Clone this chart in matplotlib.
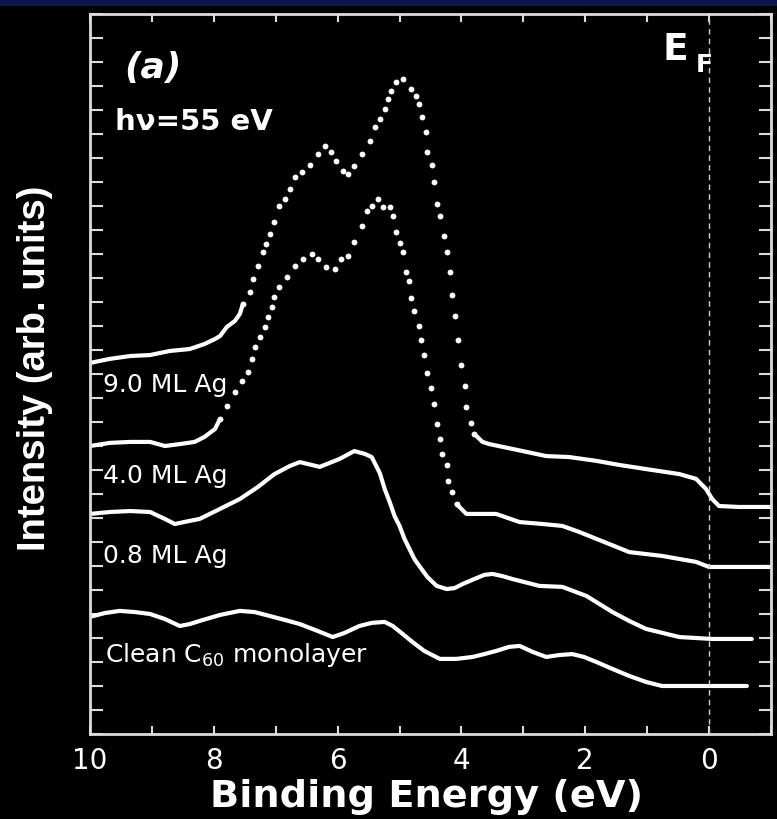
import matplotlib
matplotlib.use("Agg")
import matplotlib.pyplot as plt
import numpy as np
from matplotlib.ticker import MultipleLocator, NullFormatter
from matplotlib.patches import Rectangle

plt.rcParams['font.family'] = ['DejaVu Sans']
plt.rcParams['mathtext.fontset'] = 'dejavusans'

# Binding energy (eV) / intensity (arb. units, offset spectra)
e_90 = [10.00, 9.68, 9.35, 9.03, 8.71, 8.39, 8.15, 7.98, 7.90, 7.79, 7.66, 7.58,
        7.53, 7.42, 7.37, 7.29, 7.21, 7.15, 7.10, 7.02, 6.94, 6.85, 6.77, 6.69,
        6.58, 6.45, 6.32, 6.21, 6.10, 6.02, 5.92, 5.84, 5.73, 5.60, 5.48, 5.40,
        5.32, 5.24, 5.19, 5.13, 5.05, 4.95, 4.81, 4.73, 4.68, 4.63, 4.58, 4.55,
        4.48, 4.44, 4.40, 4.34, 4.29, 4.24, 4.19, 4.15, 4.10, 4.06, 4.00, 3.95,
        3.92, 3.85, 3.79, 3.66, 3.55, 3.18, 2.63, 2.26, 1.82, 1.45, 1.02, 0.48,
        0.21, 0.05, -0.05, -0.16, -0.48, -0.98]
i_90 = [15.46, 15.63, 15.75, 15.79, 15.96, 16.04, 16.25, 16.46, 16.58, 16.96, 17.21, 17.50,
        17.92, 18.42, 18.96, 19.50, 20.08, 20.42, 20.83, 21.33, 22.00, 22.29, 22.71, 23.21,
        23.42, 23.71, 24.17, 24.50, 24.25, 23.88, 23.46, 23.33, 23.67, 24.17, 24.71, 25.29,
        25.63, 26.04, 26.46, 26.79, 27.17, 27.29, 26.88, 26.58, 26.25, 25.71, 25.08, 24.25,
        23.71, 23.00, 22.08, 21.58, 20.75, 20.08, 19.25, 18.29, 17.42, 16.42, 15.38, 14.50,
        13.63, 12.96, 12.50, 12.17, 12.08, 11.88, 11.58, 11.54, 11.38, 11.21, 11.04, 10.83,
        10.63, 10.21, 9.79, 9.50, 9.46, 9.46]

e_40 = [10.00, 9.68, 9.35, 9.03, 8.79, 8.55, 8.31, 8.15, 7.98, 7.90, 7.79, 7.66,
        7.55, 7.45, 7.39, 7.34, 7.26, 7.18, 7.13, 7.06, 7.02, 6.94, 6.82, 6.69,
        6.56, 6.42, 6.32, 6.18, 6.05, 5.94, 5.84, 5.73, 5.60, 5.52, 5.44, 5.35,
        5.27, 5.16, 5.11, 5.05, 5.00, 4.95, 4.89, 4.84, 4.81, 4.76, 4.69, 4.65,
        4.60, 4.55, 4.50, 4.45, 4.40, 4.35, 4.31, 4.24, 4.21, 4.16, 4.08, 3.92,
        3.60, 3.44, 3.06, 2.69, 2.37, 2.10, 1.82, 1.53, 1.29, 0.76, 0.21, 0.00,
        -0.48, -0.98]
i_40 = [12.00, 12.13, 12.17, 12.17, 12.00, 12.08, 12.17, 12.38, 12.71, 13.13, 13.67, 14.25,
        14.71, 15.08, 15.63, 16.13, 16.54, 16.96, 17.38, 17.79, 18.21, 18.63, 19.04, 19.50,
        19.79, 20.00, 19.79, 19.46, 19.38, 19.79, 19.92, 20.50, 21.17, 21.79, 22.00, 22.29,
        21.96, 21.96, 21.58, 20.92, 20.46, 20.08, 19.25, 18.88, 18.17, 17.63, 17.00, 16.42,
        15.79, 15.04, 14.42, 13.75, 12.92, 12.29, 11.67, 11.21, 10.54, 10.08, 9.58, 9.17,
        9.17, 9.17, 8.83, 8.75, 8.67, 8.42, 8.13, 7.83, 7.58, 7.42, 7.17, 6.96,
        6.96, 6.96]

e_08 = [10.00, 9.68, 9.35, 9.03, 8.79, 8.63, 8.39, 8.23, 7.90, 7.58, 7.29, 7.02,
        6.77, 6.61, 6.29, 5.97, 5.73, 5.56, 5.45, 5.32, 5.24, 5.16, 5.08, 5.00,
        4.92, 4.84, 4.76, 4.68, 4.55, 4.40, 4.24, 4.11, 3.98, 3.79, 3.63, 3.50,
        3.34, 3.18, 2.74, 2.37, 1.98, 1.56, 1.29, 1.02, 0.48, -0.05, -0.69]
i_08 = [9.17, 9.25, 9.29, 9.25, 8.96, 8.75, 8.88, 8.96, 9.38, 9.79, 10.29, 10.83,
        11.17, 11.33, 11.13, 11.46, 11.79, 11.67, 11.54, 10.88, 10.21, 9.67, 9.08, 8.67,
        8.13, 7.71, 7.29, 7.00, 6.54, 6.17, 6.04, 6.08, 6.25, 6.46, 6.63, 6.67,
        6.58, 6.46, 6.17, 6.13, 5.75, 5.08, 4.71, 4.38, 4.04, 3.96, 3.96]

e_c60 = [10.00, 9.76, 9.52, 9.27, 9.03, 8.79, 8.55, 8.39, 8.23, 7.90, 7.58, 7.34,
         7.10, 6.85, 6.61, 6.32, 6.08, 5.89, 5.65, 5.45, 5.24, 5.11, 4.95, 4.79,
         4.60, 4.35, 4.08, 3.82, 3.63, 3.44, 3.23, 3.06, 2.85, 2.63, 2.42, 2.21,
         2.02, 1.82, 1.56, 1.29, 1.02, 0.76, 0.32, -0.05, -0.61]
i_c60 = [4.88, 5.04, 5.13, 5.08, 5.00, 4.79, 4.50, 4.58, 4.71, 4.96, 5.13, 5.08,
         4.92, 4.75, 4.58, 4.29, 4.04, 4.21, 4.50, 4.63, 4.67, 4.50, 4.17, 3.83,
         3.46, 3.13, 3.13, 3.21, 3.33, 3.46, 3.63, 3.67, 3.42, 3.21, 3.29, 3.33,
         3.21, 3.00, 2.71, 2.42, 2.17, 2.00, 2.00, 2.00, 2.00]

labels = ["9.0 ML Ag", "4.0 ML Ag", "0.8 ML Ag", "Clean C$_{60}$ monolayer"]
label_pos = [(9.79, 14.29), (9.79, 10.50), (9.79, 7.17), (9.76, 3.04)]

fg = '#dcdcdc'

fig = plt.figure(figsize=(7.77, 8.2), dpi=100, facecolor='black')
fig.patches.append(Rectangle((0, 1 - 6 / 820), 1, 6 / 820, transform=fig.transFigure,
                             color='#0d1650', zorder=0))
ax = fig.add_axes([90 / 777, 85 / 820, 681 / 777, 720 / 820])
ax.set_facecolor('black')


def draw(e, y, dotted=None):
    e = np.asarray(e)
    y = np.asarray(y)
    kw = dict(color='white', lw=3.0, solid_capstyle='round', solid_joinstyle='round')
    if dotted is None:
        ax.plot(e, y, **kw)
        return
    hi, lo = dotted
    ax.plot(e[e >= hi], y[e >= hi], **kw)
    ax.plot(e[e <= lo], y[e <= lo], **kw)
    m = (e <= hi) & (e >= lo)
    ax.plot(e[m], y[m], 'o', ms=4.2, color='white', mec='none')


draw(e_90, i_90, dotted=(7.53, 3.79))
draw(e_40, i_40, dotted=(7.90, 4.08))
draw(e_08, i_08)
draw(e_c60, i_c60)

ax.axvline(0, color='#cfcfcf', lw=1.0, dashes=(4, 3))

for txt, (x, y) in zip(labels, label_pos):
    ax.text(x, y, txt, color='white', fontsize=18, ha='left', va='baseline')

ax.text(9.44, 27.38, "(a)", color='white', fontsize=26, fontweight='bold',
        fontstyle='italic', ha='left', va='baseline')
ax.text(9.60, 25.21, "h\u03bd=55 eV", color='white', fontsize=21, fontweight='bold',
        ha='left', va='baseline')
ax.text(0.76, 28.13, "E", color='white', fontsize=27, fontweight='bold',
        ha='left', va='baseline')
ax.text(0.22, 27.63, "F", color='white', fontsize=18, fontweight='bold',
        ha='left', va='baseline')

ax.set_xlim(10, -1.0)
ax.set_ylim(0, 30)

ax.xaxis.set_major_locator(MultipleLocator(2))
ax.xaxis.set_minor_locator(MultipleLocator(1))
ax.yaxis.set_major_locator(MultipleLocator(1))
ax.yaxis.set_major_formatter(NullFormatter())
ax.tick_params(axis='x', which='both', direction='in', top=True, bottom=True,
               length=6, width=1.5, color=fg, labelcolor='white', labelsize=20, pad=9)
ax.tick_params(axis='y', which='both', direction='in', left=True, right=True,
               length=9, width=1.5, color=fg)
ax.set_xticks([10, 8, 6, 4, 2, 0])
ax.set_xticklabels(['10', '8', '6', '4', '2', '0'])
for s in ax.spines.values():
    s.set_color(fg)
    s.set_linewidth(2)

fig.text(426 / 777, 13 / 820, "Binding Energy (eV)", color='white', fontsize=27.5,
         fontweight='bold', ha='center', va='baseline')
fig.text(35 / 777, 1 - 368 / 820, "Intensity (arb. units)", color='white', fontsize=27.5,
         fontweight='bold', rotation=90, ha='center', va='center',
         family=['Liberation Sans', 'DejaVu Sans'])

fig.savefig('out.png', dpi=100, facecolor='black')
